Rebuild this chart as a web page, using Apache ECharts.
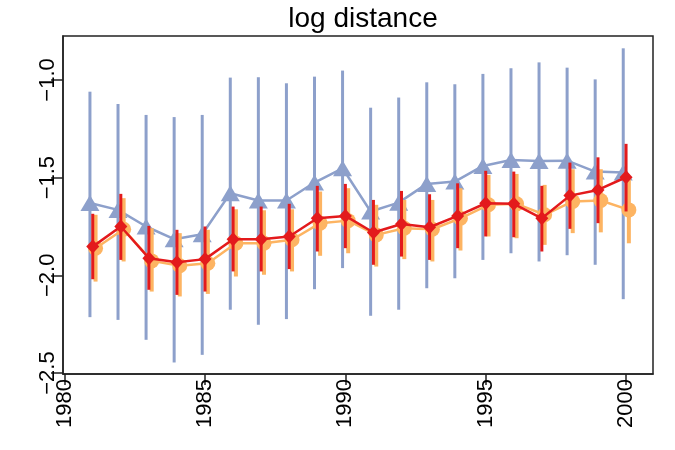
<!DOCTYPE html>
<html>
<head>
<meta charset="utf-8">
<script src="https://cdn.jsdelivr.net/npm/echarts@6/dist/echarts.min.js"></script>
<style>
  html, body { margin: 0; padding: 0; background: #fff; }
  #chart { width: 675px; height: 450px; }
</style>
</head>
<body>
<div id="chart"></div>
<script>
// 年份
const years = [1981, 1982, 1983, 1984, 1985, 1986, 1987, 1988, 1989, 1990,
               1991, 1992, 1993, 1994, 1995, 1996, 1997, 1998, 1999, 2000];

// blue series (triangles)
const blueMean = [-1.63, -1.665, -1.75, -1.815, -1.79, -1.58, -1.617, -1.617, -1.525, -1.452,
                  -1.673, -1.628, -1.532, -1.52, -1.44, -1.41, -1.415, -1.413, -1.469, -1.474];
const blueLow = [-2.214, -2.228, -2.33, -2.446, -2.407, -2.176, -2.253, -2.224, -2.071, -1.963,
                 -2.207, -2.176, -2.066, -2.015, -1.921, -1.887, -1.929, -1.897, -1.946, -2.122];
const blueHigh = [-1.06, -1.123, -1.179, -1.19, -1.179, -0.988, -0.986, -1.017, -0.983, -0.952,
                  -1.142, -1.09, -1.012, -1.022, -0.969, -0.94, -0.91, -0.937, -0.997, -0.838];

// orange series (circles)
const orangeMean = [-1.861, -1.764, -1.926, -1.951, -1.938, -1.836, -1.836, -1.818, -1.733, -1.72,
                    -1.793, -1.759, -1.764, -1.708, -1.639, -1.634, -1.69, -1.622, -1.617, -1.665];
const orangeLow = [-2.032, -1.929, -2.083, -2.108, -2.095, -2.006, -1.997, -1.98, -1.9, -1.887,
                   -1.955, -1.917, -1.929, -1.873, -1.801, -1.81, -1.844, -1.784, -1.78, -1.836];
const orangeHigh = [-1.69, -1.605, -1.759, -1.784, -1.767, -1.662, -1.667, -1.662, -1.571, -1.554,
                    -1.639, -1.614, -1.614, -1.554, -1.486, -1.481, -1.537, -1.457, -1.457, -1.495];

// red series (diamonds)
const redMean = [-1.853, -1.75, -1.912, -1.933, -1.917, -1.815, -1.815, -1.801, -1.708, -1.696,
                 -1.781, -1.737, -1.754, -1.696, -1.631, -1.634, -1.708, -1.592, -1.563, -1.498];
const redLow = [-2.02, -1.921, -2.074, -2.1, -2.083, -1.98, -1.98, -1.968, -1.878, -1.861,
                -1.946, -1.904, -1.921, -1.861, -1.801, -1.805, -1.878, -1.762, -1.733, -1.673];
const redHigh = [-1.685, -1.583, -1.747, -1.767, -1.75, -1.648, -1.648, -1.634, -1.542, -1.532,
                 -1.614, -1.568, -1.585, -1.529, -1.465, -1.469, -1.542, -1.423, -1.396, -1.327];

// tick labels
const xTicks = [1980, 1985, 1990, 1995, 2000];
const yTicks = [-2.5, -2.0, -1.5, -1.0];

const FONT = '"Liberation Sans", Arial, sans-serif';

function errorBars(name, low, high, shift, color, width, z) {
    return {
        name: name,
        type: 'custom',
        z: z,
        silent: true,
        data: years.map((y, i) => [y + shift, low[i], high[i]]),
        renderItem: function (params, api) {
            let p1 = api.coord([api.value(0), api.value(1)]);
            let p2 = api.coord([api.value(0), api.value(2)]);
            return {
                type: 'line',
                shape: { x1: p1[0], y1: p1[1], x2: p2[0], y2: p2[1] },
                style: { stroke: color, lineWidth: width }
            };
        }
    };
}

function meanLine(name, mean, shift, color, symbol, size, z) {
    return {
        name: name,
        type: 'line',
        z: z,
        data: years.map((y, i) => [y + shift, mean[i]]),
        symbol: symbol,
        symbolSize: size,
        showAllSymbol: true,
        lineStyle: { color: color, width: 2.5 },
        itemStyle: { color: color },
        emphasis: { disabled: true }
    };
}

const chart = echarts.init(document.getElementById('chart'));

const option = {
    animation: false,
    title: {
        text: 'log distance',
        left: 358,
        textAlign: 'center',
        top: 0,
        textStyle: { fontFamily: FONT, fontSize: 28, fontWeight: 'normal', color: '#000' }
    },
    grid: {
        left: 63, right: 22, top: 36, bottom: 76,
        show: true, borderColor: '#222', borderWidth: 1.5, backgroundColor: '#fff'
    },
    xAxis: {
        type: 'value',
        min: 1979.94,
        max: 2000.96,
        splitLine: { show: false },
        axisLine: { show: true, lineStyle: { color: '#222', width: 1.5 } },
        axisTick: { show: true, length: 11, customValues: xTicks, lineStyle: { color: '#222', width: 1.5 } },
        axisLabel: {
            customValues: xTicks,
            rotate: 90,
            margin: 5,
            fontFamily: FONT,
            fontSize: 22,
            color: '#000',
            formatter: v => String(v)
        }
    },
    yAxis: {
        type: 'value',
        min: -2.505,
        max: -0.775,
        splitLine: { show: false },
        axisLine: { show: true, lineStyle: { color: '#222', width: 1.5 } },
        axisTick: { show: true, length: 12, customValues: yTicks, lineStyle: { color: '#222', width: 1.5 } },
        axisLabel: {
            customValues: yTicks,
            rotate: 90,
            margin: 4,
            fontFamily: FONT,
            fontSize: 22,
            color: '#000',
            formatter: v => v.toFixed(1).replace('-', '\u2212')
        }
    },
    series: [
        errorBars('blueErr', blueLow, blueHigh, -0.1, '#8DA0CB', 3, 2),
        meanLine('blue', blueMean, -0.1, '#8DA0CB', 'triangle', [19, 16], 3),
        errorBars('orangeErr', orangeLow, orangeHigh, 0.1, '#FDB462', 4, 4),
        meanLine('orange', orangeMean, 0.1, '#FDB462', 'circle', 15, 5),
        errorBars('redErr', redLow, redHigh, 0, '#E31A1C', 3, 6),
        meanLine('red', redMean, 0, '#E31A1C', 'diamond', [13, 14], 7)
    ]
};

chart.setOption(option);
</script>
</body>
</html>
